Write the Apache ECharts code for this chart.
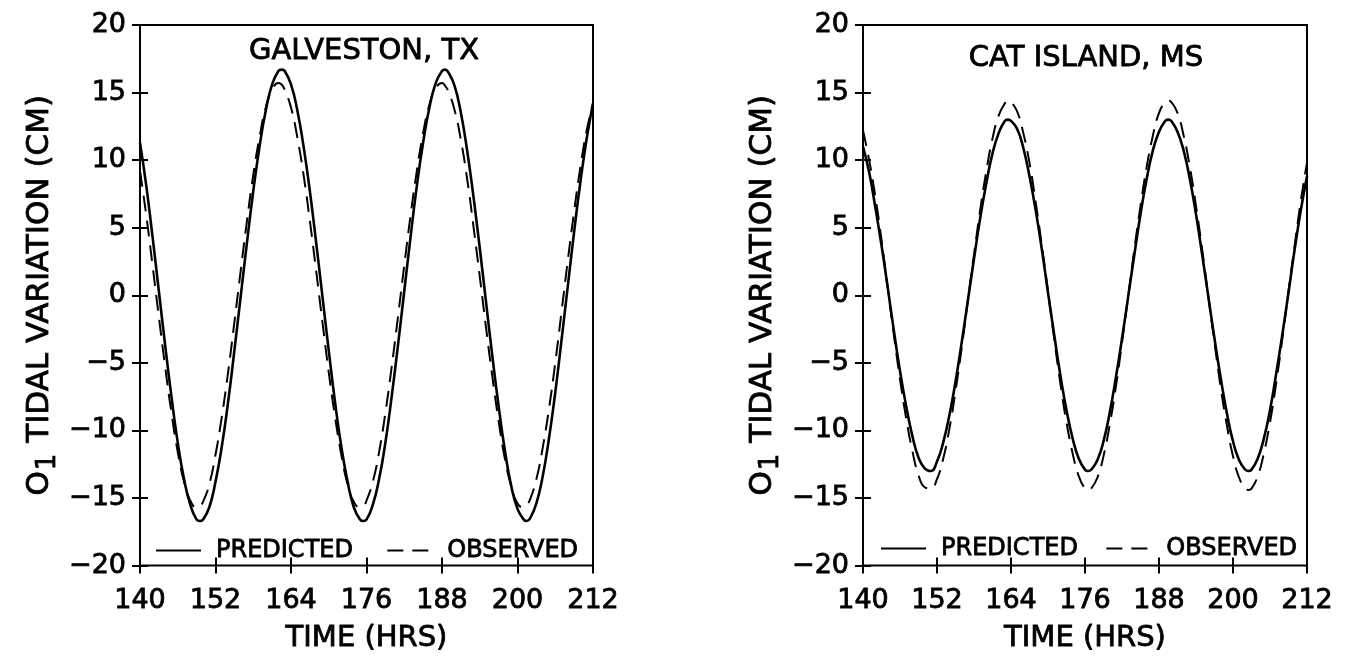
<!DOCTYPE html>
<html>
<head>
<meta charset="utf-8">
<title>O1 tidal variation</title>
<script src="https://cdn.jsdelivr.net/npm/echarts@6/dist/echarts.min.js"></script>
<style>
  html, body { margin: 0; padding: 0; background: #fff; }
  #chart { width: 1347px; height: 658px; }
</style>
</head>
<body>
<div id="chart"></div>
<script>
// Time axis: hours, ticks every 12 h from hour 140 to hour 212.
const startHour = 140;
const timeTicks = [140, 152, 164, 176, 188, 200, 212];
const levelTicks = [-20, -15, -10, -5, 0, 5, 10, 15, 20];
const stations = ['GALVESTON, TX', 'CAT ISLAND, MS'];
const seriesNames = ['PREDICTED', 'OBSERVED'];

// Sample times (h): hourly, plus the half-hour nearest each crest and trough.
const galvestonHours = [
  140, 141, 142, 143, 144, 145, 146, 147, 148, 149, 149.5,
  150, 151, 152, 153, 154, 155, 156, 157, 158, 159, 160, 161, 162, 162.5,
  163, 164, 165, 166, 167, 168, 169, 170, 171, 172, 173, 174, 175, 175.5,
  176, 177, 178, 179, 180, 181, 182, 183, 184, 185, 186, 187, 188, 188.5,
  189, 190, 191, 192, 193, 194, 195, 196, 197, 198, 199, 200, 201, 201.5,
  202, 203, 204, 205, 206, 207, 208, 209, 210, 211, 212
];
const catIslandHours = [
  140, 141, 142, 143, 144, 145, 146, 147, 148, 149, 150, 151,
  152, 153, 154, 155, 156, 157, 158, 159, 160, 161, 162, 163, 163.5,
  164, 165, 166, 167, 168, 169, 170, 171, 172, 173, 174, 175, 176, 176.5,
  177, 178, 179, 180, 181, 182, 183, 184, 185, 186, 187, 188, 189, 189.5,
  190, 191, 192, 193, 194, 195, 196, 197, 198, 199, 200, 201, 202, 202.5,
  203, 204, 205, 206, 207, 208, 209, 210, 211, 212
];

// O1 tidal variation (cm)
const galvestonPredicted = [
  11.3, 8.1, 4.3, 0.3, -3.7, -7.5, -10.9, -13.6, -15.5, -16.6, -16.7,
  -16.6, -15.7, -13.8, -11.2, -7.9, -4.1, -0.1, 3.9, 7.7, 11.0, 13.7, 15.6, 16.6, 16.7,
  16.6, 15.6, 13.7, 11.0, 7.7, 3.9, -0.1, -4.1, -7.9, -11.2, -13.8, -15.7, -16.6, -16.7,
  -16.6, -15.5, -13.6, -10.9, -7.5, -3.7, 0.3, 4.3, 8.1, 11.3, 13.9, 15.7, 16.6, 16.7,
  16.5, 15.5, 13.5, 10.7, 7.3, 3.5, -0.5, -4.5, -8.2, -11.5, -14.1, -15.8, -16.6, -16.7,
  -16.5, -15.4, -13.4, -10.6, -7.2, -3.3, 0.7, 4.7, 8.4, 11.6, 14.2
];
const galvestonObserved = [
  9.2, 5.9, 2.2, -1.6, -5.3, -8.7, -11.6, -13.8, -15.2, -15.7, -15.6,
  -15.3, -14.0, -11.8, -9.0, -5.7, -2.0, 1.8, 5.5, 8.9, 11.7, 13.9, 15.2, 15.7, 15.6,
  15.2, 13.9, 11.7, 8.9, 5.5, 1.8, -2.0, -5.7, -9.0, -11.8, -14.0, -15.3, -15.7, -15.6,
  -15.2, -13.8, -11.6, -8.7, -5.3, -1.6, 2.2, 5.9, 9.2, 12.0, 14.1, 15.3, 15.7, 15.5,
  15.1, 13.7, 11.5, 8.6, 5.1, 1.4, -2.4, -6.0, -9.3, -12.1, -14.1, -15.4, -15.7, -15.5,
  -15.1, -13.6, -11.3, -8.4, -5.0, -1.2, 2.6, 6.2, 9.5, 12.2, 14.2
];
const catIslandPredicted = [
  11.0, 9.1, 6.5, 3.7, 0.6, -2.6, -5.6, -8.2, -10.4, -12.0, -12.8, -13.0,
  -12.3, -10.9, -8.9, -6.4, -3.5, -0.4, 2.7, 5.7, 8.3, 10.5, 12.0, 12.9, 13.0,
  12.9, 12.3, 10.9, 8.8, 6.3, 3.4, 0.2, -2.9, -5.9, -8.5, -10.6, -12.1, -12.9, -13.0,
  -12.9, -12.2, -10.8, -8.7, -6.1, -3.2, -0.1, 3.0, 6.0, 8.6, 10.7, 12.1, 12.9, 13.0,
  12.9, 12.1, 10.7, 8.6, 6.0, 3.0, -0.1, -3.2, -6.1, -8.7, -10.8, -12.2, -12.9, -13.0,
  -12.9, -12.1, -10.6, -8.5, -5.8, -2.9, 0.2, 3.4, 6.3, 8.8
];
const catIslandObserved = [
  12.2, 10.0, 7.3, 4.1, 0.6, -2.9, -6.2, -9.1, -11.5, -13.3, -14.2, -14.3,
  -13.6, -12.1, -9.9, -7.1, -3.9, -0.4, 3.0, 6.3, 9.2, 11.6, 13.3, 14.2, 14.4,
  14.3, 13.6, 12.0, 9.8, 6.9, 3.7, 0.3, -3.2, -6.5, -9.4, -11.7, -13.4, -14.3, -14.4,
  -14.3, -13.5, -11.9, -9.6, -6.8, -3.5, -0.1, 3.4, 6.6, 9.5, 11.8, 13.5, 14.3, 14.4,
  14.3, 13.5, 11.8, 9.5, 6.6, 3.4, -0.1, -3.5, -6.8, -9.6, -11.9, -13.5, -14.3, -14.4,
  -14.3, -13.4, -11.7, -9.4, -6.5, -3.2, 0.3, 3.7, 7.0, 9.8
];

const FONT = 'DejaVu Sans';
const INK = '#000';
// a thin outline on the glyphs gives the heavier pen-plotter look
const heavy = { textBorderColor: INK, textBorderWidth: 0.8 };

// x values are hours elapsed since startHour, so the 12-hour ticks start at the axis minimum
const toPairs = (hours, values) => values.map((v, i) => [hours[i] - startHour, v]);
const span = timeTicks[timeTicks.length - 1] - timeTicks[0];
const step = timeTicks[1] - timeTicks[0];
const fmtLevel = v => (v < 0 ? '\u2212' + Math.abs(v) : String(v));

const grids = [
  { left: 140, right: 754, top: 25, bottom: 86 },
  { left: 863, right: 40, top: 25, bottom: 87 }
];

// Axes sit 8 px inside the frame with 16 px ticks, so each tick crosses the frame line.
const xAxes = grids.map((g, gi) => ({
  gridIndex: gi,
  type: 'value',
  min: 0,
  max: span,
  interval: step,
  offset: -8,
  axisLine: { show: false, onZero: false },
  axisTick: { show: true, inside: false, length: 16, lineStyle: { color: INK, width: 2 } },
  axisLabel: Object.assign({
    formatter: v => String(v + startHour),
    margin: 30,
    color: INK,
    fontFamily: FONT,
    fontSize: 27
  }, heavy),
  splitLine: { show: false },
  name: 'TIME (HRS)',
  nameLocation: 'middle',
  nameGap: 66,
  nameTextStyle: Object.assign({ color: INK, fontFamily: FONT, fontSize: 29 }, heavy)
}));

// "O" followed by a lowered, slightly smaller "1" (the O1 constituent)
const yName = '{a|O}{b|1}{a| TIDAL VARIATION (CM)}';
const yAxes = grids.map((g, gi) => ({
  gridIndex: gi,
  type: 'value',
  min: levelTicks[0],
  max: levelTicks[levelTicks.length - 1],
  interval: levelTicks[1] - levelTicks[0],
  offset: -8,
  axisLine: { show: false, onZero: false },
  axisTick: { show: true, inside: false, length: 16, lineStyle: { color: INK, width: 2 } },
  axisLabel: Object.assign({
    formatter: fmtLevel,
    margin: 22,
    color: INK,
    fontFamily: FONT,
    fontSize: 27
  }, heavy),
  splitLine: { show: false },
  name: yName,
  nameLocation: 'middle',
  nameGap: 92,
  nameTextStyle: Object.assign({
    color: INK,
    fontFamily: FONT,
    fontSize: 31,
    rich: {
      a: Object.assign({ fontFamily: FONT, fontSize: 31, color: INK, lineHeight: 32 }, heavy),
      b: Object.assign({ fontFamily: FONT, fontSize: 26, color: INK, lineHeight: 28, padding: [16, 1, 0, 1] }, heavy)
    }
  }, heavy)
}));

const panelData = [
  { hours: galvestonHours, predicted: galvestonPredicted, observed: galvestonObserved },
  { hours: catIslandHours, predicted: catIslandPredicted, observed: catIslandObserved }
];

const series = [];
panelData.forEach((p, gi) => {
  series.push({
    type: 'line',
    name: seriesNames[1],
    xAxisIndex: gi,
    yAxisIndex: gi,
    data: toPairs(p.hours, p.observed),
    smooth: true,
    symbol: 'none',
    showSymbol: false,
    lineStyle: { color: INK, width: 2, type: [16, 9] },
    itemStyle: { color: INK },
    z: 2
  });
  series.push({
    type: 'line',
    name: seriesNames[0],
    xAxisIndex: gi,
    yAxisIndex: gi,
    data: toPairs(p.hours, p.predicted),
    smooth: true,
    symbol: 'none',
    showSymbol: false,
    lineStyle: { color: INK, width: 2.6, type: 'solid' },
    itemStyle: { color: INK },
    z: 3
  });
});

const legendBase = {
  data: seriesNames,
  orient: 'horizontal',
  padding: 0,
  itemWidth: 45,
  itemHeight: 14,
  selectedMode: false,
  itemStyle: { opacity: 0 },
  textStyle: Object.assign({ color: INK, fontFamily: FONT, fontSize: 24, padding: [0, 0, 0, 10] }, heavy)
};

const titleStyle = Object.assign({ color: INK, fontFamily: FONT, fontSize: 29, fontWeight: 'normal' }, heavy);

const option = {
  backgroundColor: '#fff',
  animation: false,
  title: [
    { text: stations[0], left: 364, top: 37, textAlign: 'center', padding: 0, textStyle: titleStyle },
    { text: stations[1], left: 1086, top: 44, textAlign: 'center', padding: 0, textStyle: titleStyle }
  ],
  legend: [
    Object.assign({}, legendBase, { left: 155, top: 538, itemGap: 33 }),
    Object.assign({}, legendBase, { left: 880, top: 536, itemGap: 27 })
  ],
  grid: grids.map(g => Object.assign({ show: true, borderColor: INK, borderWidth: 2, backgroundColor: 'transparent' }, g)),
  xAxis: xAxes,
  yAxis: yAxes,
  series: series
};

const chart = echarts.init(document.getElementById('chart'), null, { renderer: 'canvas' });
chart.setOption(option);
</script>
</body>
</html>
